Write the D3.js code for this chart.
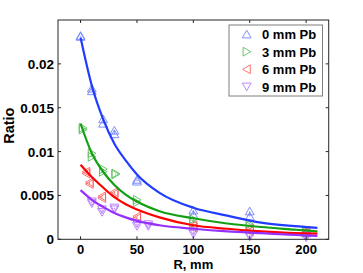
<!DOCTYPE html>
<html><head><meta charset="utf-8">
<script src="https://cdn.jsdelivr.net/npm/d3@7"></script>
<style>
html,body{margin:0;padding:0;background:#fff;}
svg{display:block;font-family:"Liberation Sans",Arial,sans-serif;}
</style></head>
<body><svg id="c" width="363" height="273"></svg>
<script>
// ---- data ----
const seriesNames = ["0 mm Pb", "3 mm Pb", "6 mm Pb", "9 mm Pb"];
const xTicks = [0, 50, 100, 150, 200];
const yTicks = [0, 0.005, 0.01, 0.015, 0.02];
const yTickLabels = ["0", "0.005", "0.01", "0.015", "0.02"];

// measured points (two readings per position: high / low)
const x0 = [0, 10, 20, 30, 50, 100, 150, 200];
const hi0 = [0.0232, 0.0172, 0.0137, 0.0124, 0.0068, 0.0033, 0.0032, 0.0009];
const lo0 = [0.0231, 0.0169, 0.0132, 0.0120, 0.0066, 0.0028, 0.0026, 0.0007];

const x3 = [2, 10, 20, 31, 50, 100, 150, 200];
const hi3 = [0.0127, 0.0098, 0.0080, 0.0075, 0.0045, 0.0023, 0.0017, 0.0010];
const lo3 = [0.0125, 0.0094, 0.0077, 0.0074, 0.0042, 0.0018, 0.0015, 0.0008];

const x6 = [5, 8, 19, 30, 50, 100, 150, 200];
const hi6 = [0.0077, 0.0065, 0.0049, 0.0054, 0.0026, 0.0016, 0.0012, 0.0010];
const lo6 = [0.0075, 0.0063, 0.0047, 0.0052, 0.0024, 0.0013, 0.0009, 0.0008];

const x9 = [10, 19, 30, 50, 60, 100, 150, 200];
const hi9 = [0.0043, 0.0034, 0.0036, 0.0018, 0.0017, 0.0009, 0.0005, 0.0004];
const lo9 = [0.0041, 0.0031, 0.0034, 0.0015, 0.0015, 0.0006, 0.0003, 0.0002];

// fitted curves
const fitX = [0, 10, 20, 30, 40, 50, 70, 100, 130, 160, 190, 210];
const fit0 = [0.0230, 0.0175, 0.0137, 0.0109, 0.0090, 0.0074, 0.0053, 0.0036, 0.0027, 0.0019, 0.0015, 0.0013];
const fit3 = [0.0132, 0.0098, 0.0077, 0.0062, 0.0051, 0.0043, 0.0032, 0.0024, 0.0018, 0.0014, 0.0011, 0.0009];
const fit6 = [0.0085, 0.0071, 0.0059, 0.0048, 0.0040, 0.0034, 0.0025, 0.0016, 0.0012, 0.0009, 0.0007, 0.00065];
const fit9 = [0.0056, 0.0045, 0.0037, 0.0030, 0.0025, 0.0021, 0.0016, 0.0012, 0.0009, 0.0007, 0.0005, 0.0004];

// ---- styling ----
const lineColors = ["#1f3cff", "#14a014", "#ff0000", "#9630ff"];
const markColors = ["#6f82ff", "#5cc05c", "#ff6060", "#b478ff"];
const markDirs = ["up", "right", "left", "down"];

const series = [
  {name: seriesNames[0], x: x0, hi: hi0, lo: lo0, fit: fit0},
  {name: seriesNames[1], x: x3, hi: hi3, lo: lo3, fit: fit3},
  {name: seriesNames[2], x: x6, hi: hi6, lo: lo6, fit: fit6},
  {name: seriesNames[3], x: x9, hi: hi9, lo: lo9, fit: fit9}
];

const L = 58, R = 328.7, T = 20, B = 239.3;
const svg = d3.select("#c");
const xS = d3.scaleLinear().domain([-20, 220]).range([L, R]);
const yS = d3.scaleLinear().domain([0, 0.025]).range([B, T]);

function tri(dir, cx, cy, s) {
  const h = s * 0.9, w = s * 0.55;
  let p;
  if (dir === "up") p = [[cx, cy - h / 2 - 0.5], [cx - w, cy + h / 2], [cx + w, cy + h / 2]];
  else if (dir === "down") p = [[cx, cy + h / 2 + 0.5], [cx - w, cy - h / 2], [cx + w, cy - h / 2]];
  else if (dir === "right") p = [[cx + h / 2 + 0.5, cy], [cx - h / 2, cy - w], [cx - h / 2, cy + w]];
  else p = [[cx - h / 2 - 0.5, cy], [cx + h / 2, cy - w], [cx + h / 2, cy + w]];
  return "M" + p.map(q => q.join(",")).join("L") + "Z";
}

const plot = svg.append("g");
const lineGen = d3.line().x(d => xS(d[0])).y(d => yS(d[1])).curve(d3.curveMonotoneX);

// markers
series.forEach((s, i) => {
  const g = plot.append("g");
  s.x.forEach((xv, j) => {
    g.append("line").attr("x1", xS(xv)).attr("x2", xS(xv))
      .attr("y1", yS(s.hi[j])).attr("y2", yS(s.lo[j]))
      .attr("stroke", markColors[i]).attr("stroke-width", 0.9);
    [s.hi[j], s.lo[j]].forEach(v => {
      g.append("path").attr("d", tri(markDirs[i], xS(xv), yS(v), 8))
        .attr("fill", "none").attr("stroke", markColors[i]).attr("stroke-width", 0.9);
    });
  });
});

// fitted lines
series.forEach((s, i) => {
  plot.append("path").datum(fitX.map((xv, j) => [xv, s.fit[j]]))
    .attr("d", lineGen).attr("fill", "none")
    .attr("stroke", lineColors[i]).attr("stroke-width", 2.2);
});

// axes box
const axCol = "#262626";
svg.append("rect").attr("x", L).attr("y", T).attr("width", R - L).attr("height", B - T)
  .attr("fill", "none").attr("stroke", axCol).attr("stroke-width", 1);

const tk = 3;
const axG = svg.append("g");
xTicks.forEach(t => {
  axG.append("line").attr("x1", xS(t)).attr("x2", xS(t)).attr("y1", B).attr("y2", B - tk).attr("stroke", axCol);
  axG.append("line").attr("x1", xS(t)).attr("x2", xS(t)).attr("y1", T).attr("y2", T + tk).attr("stroke", axCol);
  axG.append("text").attr("x", xS(t)).attr("y", B + 15).attr("text-anchor", "middle")
    .attr("font-size", 13).attr("font-weight", "bold").text(t);
});
yTicks.forEach((t, k) => {
  axG.append("line").attr("x1", L).attr("x2", L + tk).attr("y1", yS(t)).attr("y2", yS(t)).attr("stroke", axCol);
  axG.append("line").attr("x1", R).attr("x2", R - tk).attr("y1", yS(t)).attr("y2", yS(t)).attr("stroke", axCol);
  axG.append("text").attr("x", L - 4).attr("y", yS(t) + 5).attr("text-anchor", "end")
    .attr("font-size", 13.5).attr("font-weight", "bold").text(yTickLabels[k]);
});

svg.append("text").attr("x", (L + R) / 2).attr("y", 269).attr("text-anchor", "middle")
  .attr("font-size", 13).attr("font-weight", "bold").text("R, mm");
svg.append("text").attr("transform", `translate(14,${(T + B) / 2 - 4}) rotate(-90)`)
  .attr("text-anchor", "middle").attr("font-size", 14.5).attr("font-weight", "bold").text("Ratio");

// legend
const lg = svg.append("g");
lg.append("rect").attr("x", 229).attr("y", 25).attr("width", 93.5).attr("height", 71)
  .attr("fill", "#fff").attr("stroke", "#7f7f7f").attr("stroke-width", 1);
const legY = [34.3, 51.7, 69.3, 86.7];
series.forEach((s, i) => {
  lg.append("path").attr("d", tri(markDirs[i], 246.7, legY[i], 8))
    .attr("fill", "none").attr("stroke", markColors[i]).attr("stroke-width", 0.9);
  lg.append("text").attr("x", 262).attr("y", legY[i] + 4.8)
    .attr("font-size", 13).attr("font-weight", "bold").text(s.name);
});
</script></body></html>
